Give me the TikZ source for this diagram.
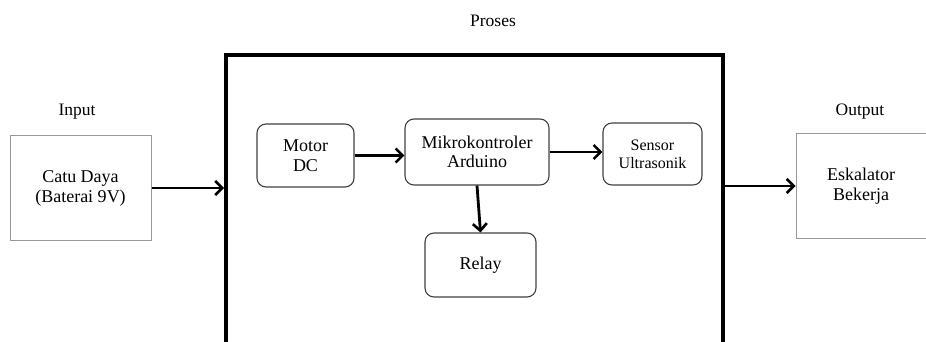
\documentclass[tikz,border=0pt]{standalone}
\usepackage{fontspec}
\setmainfont{Liberation Serif}
\usetikzlibrary{arrows.meta}
\begin{document}
\begin{tikzpicture}[x=1pt,y=1pt,
  lbl/.style={font=\fontsize{17.5}{20}\selectfont},
  iobox/.style={draw=black!40, line width=1pt, align=center,
    font=\fontsize{18}{20}\selectfont, inner sep=0pt},
  blk/.style={draw=black!75, line width=1.1pt, rounded corners=9pt,
    align=center, font=\fontsize{18}{19.5}\selectfont, inner sep=0pt},
  flow/.style={line width=2.8pt, -{Straight Barb[length=7pt,width=14pt,line width=2.6pt]}}]
\useasboundingbox (0,0) rectangle (926,-342);

% heading labels
\node[lbl] (lin)  at (77,-112) {Input};
\node[lbl] (lpro) at (493,-21) {Proses};
\node[lbl] (lout) at (860,-112) {Output};

% process frame, open at the bottom edge
\node[draw, line width=4pt, minimum width=497pt, minimum height=400pt,
      inner sep=0pt, anchor=north west] (proc) at (224,-53) {};

% input and output blocks
\node[iobox, minimum width=141pt, minimum height=104pt] (catu) at (80.5,-188) {Catu Daya\\(Baterai 9V)};
\node[iobox, minimum width=140pt, minimum height=104pt] (esk) at (866,-186) {};
\node[font=\fontsize{18}{20}\selectfont, align=center] (eskt) at (861,-186) {Eskalator\\Bekerja};

% inner blocks
\node[blk, minimum width=97pt, minimum height=63pt] (motor) at (305.5,-155.5) {Motor\\DC};
\node[blk, minimum width=144pt, minimum height=66pt] (mcu) at (477,-152) {Mikrokontroler\\Arduino};
\node[blk, minimum width=99pt, minimum height=62pt, font=\fontsize{16}{18}\selectfont] (sens) at (652.5,-154) {Sensor\\Ultrasonik};
\node[blk, minimum width=111pt, minimum height=64pt] (relay) at (480.5,-265) {Relay};

% connectors
\draw[flow] (catu.east) -- (catu.east -| proc.west);
\draw[flow] (motor.east) -- (motor.east -| mcu.west);
\draw[flow] (mcu.east) -- (mcu.east -| sens.west);
\draw[flow] (mcu.south) -- (relay.north);
\draw[flow] (esk.west -| proc.east) -- (esk.west);
\end{tikzpicture}
\end{document}
